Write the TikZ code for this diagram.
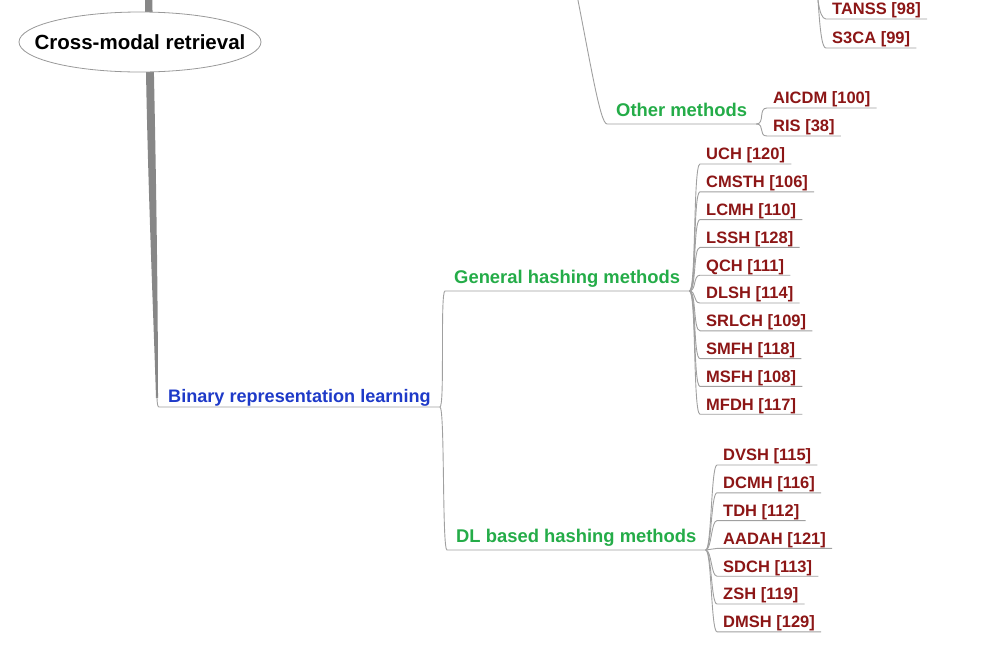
\documentclass[tikz,border=0pt]{standalone}
\usepackage{fontspec}
\setmainfont{Liberation Sans}
\usetikzlibrary{shapes.geometric,calc}
\definecolor{leafred}{RGB}{140,22,22}
\definecolor{catgreen}{RGB}{36,172,72}
\definecolor{catblue}{RGB}{30,58,200}
\definecolor{linegray}{RGB}{160,160,160}
\definecolor{trunkgray}{RGB}{135,135,135}
\tikzset{
  leaf/.style={font=\fontsize{16.5}{18}\selectfont\bfseries, text=leafred, anchor=south west,
    inner xsep=6pt, inner ysep=0pt, text height=12pt, text depth=4pt},
  cat/.style={font=\fontsize{18.4}{20}\selectfont\bfseries, text=catgreen, anchor=south west,
    inner xsep=9pt, inner ysep=0pt, text height=13.5pt, text depth=7pt},
  main/.style={cat, font=\fontsize{18.1}{20}\selectfont\bfseries, text=catblue, text depth=4.5pt},
  rootshape/.style={draw=gray!80, line width=0.8pt, fill=white},
  rootnode/.style={inner sep=0pt, font=\fontsize{20.5}{22}\selectfont\bfseries, text=black},
  branch/.style={draw=linegray, line width=0.9pt},
}
\begin{document}
\begin{tikzpicture}[x=1pt,y=-1pt]
\useasboundingbox (0,0) rectangle (983,654);
\begin{scope}
\clip (0,0) rectangle (983,654);
% trunk
\coordinate (trunkend) at (157,396);
\fill[trunkgray] (145,-10) .. controls (146,150) and (153,300) .. (156,398) -- (158,398)
   .. controls (158,300) and (156,150) .. (152,-10) -- cycle;
% root topic
\path[rootshape] (140,42) ellipse [x radius=121, y radius=30];
\node[rootnode] (root) at (140,42) {Cross-modal retrieval};
% nodes
\node[main] (bin) at (159,407) {Binary representation learning};
\node[cat] (gen) at (445,291) {General hashing methods};
\node[cat] (dl) at (447,550) {DL based hashing methods};
\node[cat] (oth) at (607,124) {Other methods};
% parents above the picture
\coordinate (pOther) at (574,-20);
\coordinate (pTop) at (815,-30);
% top leaves
\node[leaf] (tanss) at (826,19) {TANSS [98]};
\node[leaf] (s3ca) at (826,48) {S3CA [99]};
\node[leaf] (aicdm) at (767,108) {AICDM [100]};
\node[leaf] (ris) at (767,136) {RIS [38]};
% general hashing leaves
\foreach \t [count=\i from 0] in {UCH [120],CMSTH [106],LCMH [110],LSSH [128],QCH [111],DLSH [114],SRLCH [109],SMFH [118],MSFH [108],MFDH [117]}{
  \node[leaf] (g\i) at (700,{164+27.8*\i}) {\t};
}
% DL leaves
\foreach \t [count=\i from 0] in {DVSH [115],DCMH [116],TDH [112],AADAH [121],SDCH [113],ZSH [119],DMSH [129]}{
  \node[leaf] (d\i) at (717,{465+27.8*\i}) {\t};
}
% connectors
\draw[branch] (trunkend) .. controls (157,405) and (158,407) .. (bin.south west) -- (bin.south east);
\draw[branch] (bin.south east) .. controls +(5,0) and ($(gen.south west)+(-5,0)$) .. (gen.south west) -- (gen.south east);
\draw[branch] (bin.south east) .. controls +(5,0) and ($(dl.south west)+(-5,0)$) .. (dl.south west) -- (dl.south east);
\draw[branch] (pOther) .. controls (590,60) and (600,124) .. (oth.south west) -- (oth.south east);
\foreach \n in {aicdm,ris}{
  \draw[branch] (oth.south east) .. controls +(9,0) and ($(\n.south west)+(-9,0)$) .. (\n.south west) -- (\n.south east);
}
\draw[branch] (pTop) .. controls (817,-10) and (818,19) .. (tanss.south west) -- (tanss.south east);
\draw[branch] (pTop) .. controls (819,-5) and (819,48) .. (s3ca.south west) -- (s3ca.south east);
\foreach \i in {0,...,9}{
  \draw[branch] (gen.south east) .. controls +(7,0) and ($(g\i.south west)+(-7,0)$) .. (g\i.south west) -- (g\i.south east);
}
\foreach \i in {0,...,6}{
  \draw[branch] (dl.south east) .. controls +(6,0) and ($(d\i.south west)+(-6,0)$) .. (d\i.south west) -- (d\i.south east);
}
\end{scope}
\end{tikzpicture}
\end{document}
